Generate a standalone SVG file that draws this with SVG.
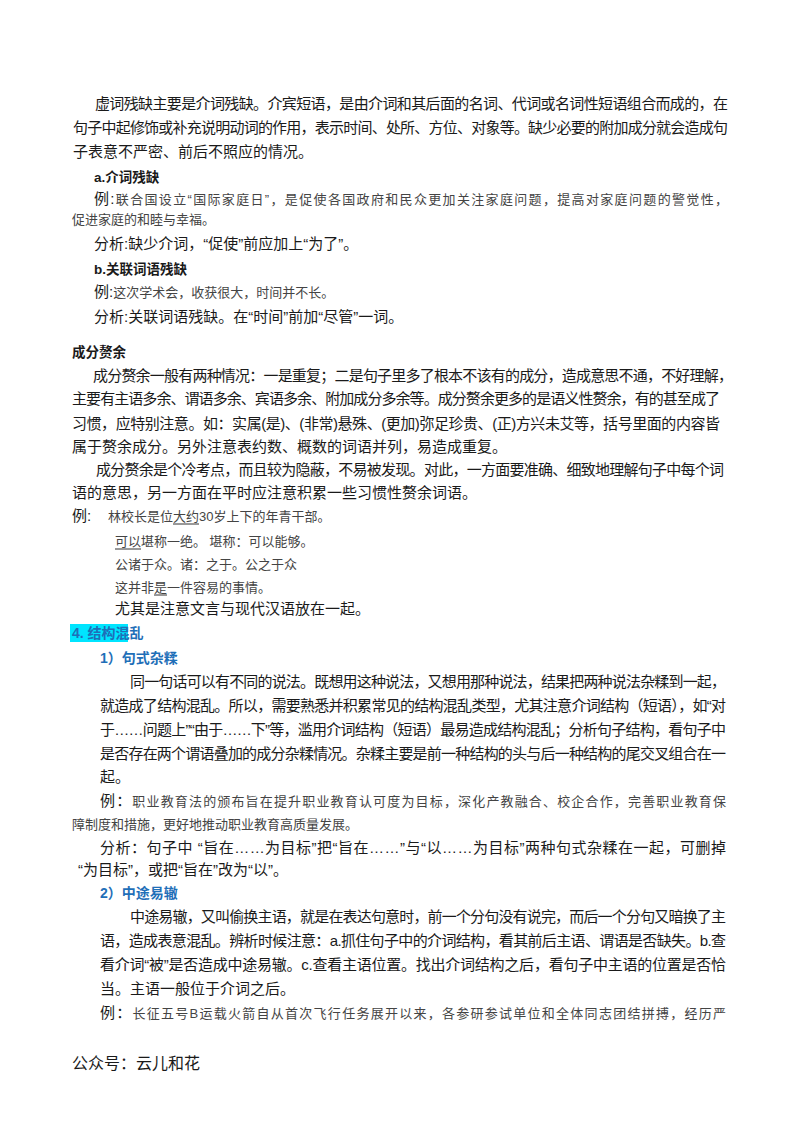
<svg xmlns="http://www.w3.org/2000/svg" width="800" height="1132" viewBox="0 0 800 1132">
<style>
text{font-family:"Liberation Sans","Noto Sans CJK SC",sans-serif;fill:#1a1a1a;font-size:15px}
.h{font-weight:bold;font-size:13.5px}
.ex{font-size:13px;fill:#444}
.blue{fill:#1f6fb8;font-weight:bold;font-size:14px}
.ul{stroke:#333;stroke-width:1}
</style>
<rect width="800" height="1132" fill="#fff"/>
<g id="p1">
<text x="95" y="109" textLength="633" lengthAdjust="spacing">虚词残缺主要是介词残缺。介宾短语，是由介词和其后面的名词、代词或名词性短语组合而成的，在</text>
<text x="73" y="133" textLength="655" lengthAdjust="spacing">句子中起修饰或补充说明动词的作用，表示时间、处所、方位、对象等。缺少必要的附加成分就会造成句</text>
<text x="73" y="157">子表意不严密、前后不照应的情况。</text>
<text class="h" x="94" y="182">a.介词残缺</text>
<text x="94" y="204" textLength="634" lengthAdjust="spacing"><tspan>例:</tspan><tspan class="ex">联合国设立“国际家庭日”，是促使各国政府和民众更加关注家庭问题，提高对家庭问题的警觉性，</tspan></text>
<text class="ex" x="72" y="224">促进家庭的和睦与幸福。</text>
<text x="94" y="249">分析:缺少介词，“促使”前应加上“为了”。</text>
<text class="h" x="94" y="274">b.关联词语残缺</text>
<text x="94" y="297">例:<tspan class="ex">这次学术会，收获很大，时间并不长。</tspan></text>
<text x="94" y="322">分析:关联词语残缺。在“时间”前加“尽管”一词。</text>
</g>
<g id="p2">
<text class="h" x="72" y="357">成分赘余</text>
<text x="93" y="381" textLength="640" lengthAdjust="spacing">成分赘余一般有两种情况：一是重复；二是句子里多了根本不该有的成分，造成意思不通，不好理解，</text>
<text x="72" y="404" textLength="648" lengthAdjust="spacing">主要有主语多余、谓语多余、宾语多余、附加成分多余等。成分赘余更多的是语义性赘余，有的甚至成了</text>
<text x="72" y="429" textLength="648" lengthAdjust="spacing">习惯，应特别注意。如：实属(是)、(非常)悬殊、(更加)弥足珍贵、(正)方兴未艾等，括号里面的内容皆</text>
<text x="72" y="452">属于赘余成分。另外注意表约数、概数的词语并列，易造成重复。</text>
<text x="96" y="475" textLength="628" lengthAdjust="spacing">成分赘余是个冷考点，而且较为隐蔽，不易被发现。对此，一方面要准确、细致地理解句子中每个词</text>
<text x="72" y="498">语的意思，另一方面在平时应注意积累一些习惯性赘余词语。</text>
<text x="72" y="521">例:</text>
<text class="ex" x="108" y="521">林校长是位大约30岁上下的年青干部。</text>
<line class="ul" x1="173" y1="524" x2="199" y2="524"/>
<text class="ex" x="115" y="546">可以堪称一绝。    堪称：可以能够。</text>
<line class="ul" x1="115" y1="549" x2="141" y2="549"/>
<text class="ex" x="115" y="569">公诸于众。诸：之于。公之于众</text>
<text class="ex" x="115" y="592">这并非是一件容易的事情。</text>
<line class="ul" x1="154" y1="595" x2="167" y2="595"/>
<text x="115" y="614">尤其是注意文言与现代汉语放在一起。</text>
</g>
<g id="p3">
<rect x="70" y="624" width="58" height="18" fill="#00e5ff"/>
<text class="blue" x="72" y="638">4. 结构混乱</text>
<text class="blue" x="100" y="663">1）句式杂糅</text>
<text x="130" y="687" textLength="596" lengthAdjust="spacing">同一句话可以有不同的说法。既想用这种说法，又想用那种说法，结果把两种说法杂糅到一起，</text>
<text x="100" y="711" textLength="626" lengthAdjust="spacing">就造成了结构混乱。所以，需要熟悉并积累常见的结构混乱类型，尤其注意介词结构（短语），如“对</text>
<text x="100" y="735" textLength="626" lengthAdjust="spacing">于……问题上”“由于……下”等，滥用介词结构（短语）最易造成结构混乱；分析句子结构，看句子中</text>
<text x="100" y="759" textLength="626" lengthAdjust="spacing">是否存在两个谓语叠加的成分杂糅情况。杂糅主要是前一种结构的头与后一种结构的尾交叉组合在一</text>
<text x="100" y="782">起。</text>
<text x="100" y="806" textLength="626" lengthAdjust="spacing">例：<tspan class="ex">职业教育法的颁布旨在提升职业教育认可度为目标，深化产教融合、校企合作，完善职业教育保</tspan></text>
<text class="ex" x="72" y="829">障制度和措施，更好地推动职业教育高质量发展。</text>
<text x="100" y="853" textLength="626" lengthAdjust="spacing">分析：句子中 “旨在……为目标”把“旨在……”与“以……为目标”两种句式杂糅在一起，可删掉</text>
<text x="78" y="875">“为目标”，或把“旨在”改为“以”。</text>
</g>
<g id="p4">
<text class="blue" x="100" y="898">2）中途易辙</text>
<text x="130" y="922" textLength="596" lengthAdjust="spacing">中途易辙，又叫偷换主语，就是在表达句意时，前一个分句没有说完，而后一个分句又暗换了主</text>
<text x="100" y="946" textLength="626" lengthAdjust="spacing">语，造成表意混乱。辨析时候注意：a.抓住句子中的介词结构，看其前后主语、谓语是否缺失。b.查</text>
<text x="100" y="970" textLength="626" lengthAdjust="spacing">看介词“被”是否造成中途易辙。c.查看主语位置。找出介词结构之后，看句子中主语的位置是否恰</text>
<text x="100" y="994">当。主语一般位于介词之后。</text>
<text x="100" y="1018" textLength="626" lengthAdjust="spacing">例：<tspan class="ex">长征五号B运载火箭自从首次飞行任务展开以来，各参研参试单位和全体同志团结拼搏，经历严</tspan></text>
<text x="72" y="1069" style="font-size:16px">公众号：云儿和花</text>
</g>
</svg>
